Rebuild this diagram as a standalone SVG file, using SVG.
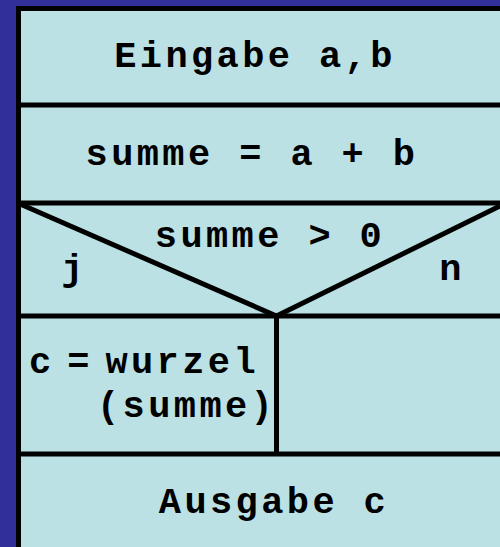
<svg xmlns="http://www.w3.org/2000/svg" width="500" height="547" viewBox="0 0 500 547">
<style>
.t{font-family:"Liberation Mono","Courier New",monospace;font-weight:bold;font-size:37px;letter-spacing:3.4px;fill:#000}
.ln{stroke:#000;stroke-width:5;fill:none}
.cell{fill:#bce1e4}
</style>
<rect x="0" y="0" width="500" height="547" fill="#31309a"/>
<g id="frame">
<rect class="cell" x="18.5" y="8.5" width="490" height="550"/>
<rect class="ln" x="18.5" y="8.5" width="490" height="550"/>
</g>
<g id="eingabe">
<text class="t" x="255" y="67" text-anchor="middle">Eingabe a,b</text>
</g>
<g id="summe">
<text class="t" x="252" y="165" text-anchor="middle">summe = a + b</text>
</g>
<g id="bedingung">
<text class="t" x="270" y="247" text-anchor="middle">summe &gt; 0</text>
<text class="t" x="74" y="280" text-anchor="middle">j</text>
<text class="t" x="452" y="280" text-anchor="middle">n</text>
</g>
<g id="wurzel">
<text class="t" x="29" y="373" word-spacing="-13">c = wurzel</text>
<text class="t" x="97" y="417">(summe)</text>
</g>
<g id="leer"></g>
<g id="ausgabe">
<text class="t" x="274" y="513" text-anchor="middle">Ausgabe c</text>
</g>
<g id="lines">
<line class="ln" x1="18" y1="105" x2="500" y2="105"/>
<line class="ln" x1="18" y1="203" x2="500" y2="203"/>
<line class="ln" x1="18" y1="316" x2="500" y2="316"/>
<line class="ln" x1="18" y1="454" x2="500" y2="454"/>
<polyline class="ln" points="20,204 276.5,316 500,206"/>
<line class="ln" x1="276.5" y1="316" x2="276.5" y2="454"/>
</g>
</svg>
